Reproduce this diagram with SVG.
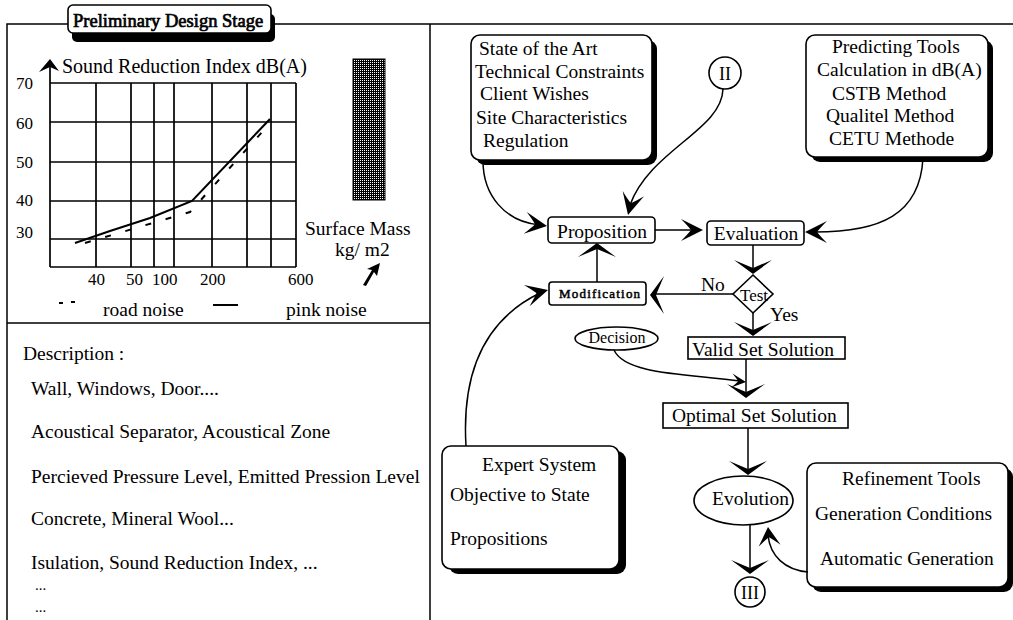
<svg xmlns="http://www.w3.org/2000/svg" width="1013" height="620" viewBox="0 0 1013 620">
<defs>
<style>
text{font-family:"Liberation Serif","Times New Roman",serif;font-size:19.5px;fill:#000}
.bold{stroke:#000;stroke-width:0.7}
.ln{stroke:#000;stroke-width:1.5;fill:none}
.grid{stroke:#000;stroke-width:1.7;fill:none}
.box{fill:#fff;stroke:#000;stroke-width:1.6}
.sh{fill:#000}
.num{font-size:17px}
.c{text-anchor:middle}
.con{stroke:#000;stroke-width:1.5;fill:none}
.ah{fill:#000}
</style>
<pattern id="hatch" width="2" height="2" patternUnits="userSpaceOnUse"><rect width="2" height="2" fill="#000"/><rect width="1" height="1" fill="#fff"/></pattern>
<path id="aw" d="M0,0 L-14,-19 L-6,0 L-14,19 Z"/>
<path id="as" d="M0,0 Q-10,-5 -22,-11 Q-15,-4 -12,0 Q-15,4 -22,11 Q-10,5 0,0 Z"/>
</defs>
<rect width="1013" height="620" fill="#fff"/>

<g id="frame">
<path class="ln" d="M7,620 V24 H1013 M430,24 V620 M7,323 H430"/>
</g>

<g id="header">
<rect class="sh" x="72" y="14" width="203" height="28" rx="5"/>
<rect class="box" x="68" y="5" width="203" height="28" rx="5"/>
<text class="bold" x="73" y="27" style="font-size:18.5px">Preliminary Design Stage</text>
</g>

<g id="chart">
<path class="grid" d="M50,83 H296 M50,122 H296 M50,162 H296 M50,201 H296 M50,239 H296 M50,267 H296 M96,83 V267 M131,83 V267 M154,83 V267 M174,83 V267 M212,83 V267 M247,83 V267 M271,83 V267 M296,83 V267 M50,267 V64"/>
<path class="ah" d="M50,59 L39,72 L50,67 L59,71 Z"/>
<path class="ah" d="M363,285 L372,270 L367,269 L380,263 L377,276 L374,272 L366,286 Z"/>
<text x="62" y="73" style="font-size:20px">Sound Reduction Index dB(A)</text>
<text class="num" x="16" y="89">70</text>
<text class="num" x="16" y="129">60</text>
<text class="num" x="16" y="168">50</text>
<text class="num" x="16" y="206">40</text>
<text class="num" x="16" y="238">30</text>
<text class="num" x="88" y="285">40</text>
<text class="num" x="126" y="285">50</text>
<text class="num" x="152" y="285">100</text>
<text class="num" x="200" y="285">200</text>
<text class="num" x="288" y="285">600</text>
<path d="M75,243 L110,231 L150,218 L192,201 L270,119" stroke="#000" stroke-width="2" fill="none"/>
<path d="M85,243 L190,212 L263,131" stroke="#000" stroke-width="2" fill="none" stroke-dasharray="6 15"/>
<rect x="353" y="59" width="32" height="141" fill="url(#hatch)" stroke="#000" stroke-width="1"/>
<text x="305" y="235">Surface Mass</text>
<text x="335" y="256">kg/ m2</text>
</g>

<g id="legend">
<path d="M59,303 H63 M71,302 H75 M213,305 H238" stroke="#000" stroke-width="1.8"/>
<text x="103" y="316">road noise</text>
<text x="286" y="316">pink noise</text>
</g>

<g id="description">
<text x="23" y="360">Description :</text>
<text x="31" y="395">Wall, Windows, Door....</text>
<text x="31" y="438">Acoustical Separator, Acoustical Zone</text>
<text x="31" y="483">Percieved Pressure Level, Emitted Pression Level</text>
<text x="31" y="525">Concrete, Mineral Wool...</text>
<text x="31" y="569">Isulation, Sound Reduction Index, ...</text>
<text x="35" y="590" style="font-size:15px">...</text>
<text x="35" y="612" style="font-size:15px">...</text>
</g>

<g id="state">
<rect class="sh" x="476" y="40" width="181" height="125" rx="9"/>
<rect class="box" x="471" y="35" width="181" height="125" rx="9"/>
<text x="479" y="55">State of the Art</text>
<text x="475" y="78">Technical Constraints</text>
<text x="480" y="100">Client Wishes</text>
<text x="476" y="124">Site Characteristics</text>
<text x="483" y="147">Regulation</text>
</g>

<g id="c2">
<circle cx="725" cy="73" r="16" fill="#fff" stroke="#000" stroke-width="1.6"/>
<text class="c" x="725" y="80" style="font-size:18px">II</text>
</g>

<g id="predicting">
<rect class="sh" x="811" y="40" width="182" height="122" rx="9"/>
<rect class="box" x="806" y="35" width="182" height="122" rx="9"/>
<text x="832" y="53">Predicting Tools</text>
<text x="817" y="76">Calculation in dB(A)</text>
<text x="832" y="100">CSTB Method</text>
<text x="826" y="122">Qualitel Method</text>
<text x="829" y="145">CETU Methode</text>
</g>

<g id="proposition">
<rect class="box" x="548" y="217" width="107" height="26" rx="4"/>
<text class="c" x="602" y="238">Proposition</text>
</g>

<g id="evaluation">
<rect class="box" x="707" y="221" width="97" height="24" rx="4"/>
<text class="c" x="756" y="240">Evaluation</text>
</g>

<g id="modification">
<rect class="box" x="549" y="282" width="97" height="23" rx="3"/>
<text class="bold" x="559" y="298" style="font-size:13px;letter-spacing:1.2px;stroke-width:0.5">Modification</text>
</g>

<g id="test">
<path class="box" d="M753,275 L773,294 L753,313 L733,294 Z"/>
<text class="c" x="754" y="301" style="font-size:17px">Test</text>
</g>

<g id="decision">
<ellipse cx="616.5" cy="338.5" rx="41.5" ry="11.5" fill="#fff" stroke="#000" stroke-width="1.6"/>
<text class="c" x="617" y="343" style="font-size:16px">Decision</text>
</g>

<g id="valid">
<rect class="box" x="688" y="337" width="157" height="22"/>
<text x="692" y="356">Valid Set Solution</text>
</g>

<g id="optimal">
<rect class="box" x="663" y="403" width="185" height="25"/>
<text x="672" y="422">Optimal Set Solution</text>
</g>

<g id="evolution">
<ellipse cx="743.5" cy="500.5" rx="49.5" ry="24.5" fill="#fff" stroke="#000" stroke-width="1.6"/>
<text x="712" y="505">Evolution</text>
</g>

<g id="c3">
<circle cx="750" cy="592" r="15" fill="#fff" stroke="#000" stroke-width="1.6"/>
<text class="c" x="750" y="599" style="font-size:18px">III</text>
</g>

<g id="expert">
<rect class="sh" x="449" y="451" width="177" height="123" rx="9"/>
<rect class="box" x="442" y="446" width="177" height="123" rx="9"/>
<text x="482" y="471">Expert System</text>
<text x="450" y="501">Objective to State</text>
<text x="450" y="545">Propositions</text>
</g>

<g id="refinement">
<rect class="sh" x="812" y="468" width="201" height="124" rx="9"/>
<rect class="box" x="807" y="463" width="201" height="124" rx="9"/>
<text x="842" y="485">Refinement Tools</text>
<text x="815" y="520">Generation Conditions</text>
<text x="820" y="565">Automatic Generation</text>
</g>

<g id="connectors">
<path class="con" d="M483,161 C483,195 505,222 540,225"/>
<use class="ah" href="#as" transform="translate(547,226) rotate(8)"/>
<path class="con" d="M723,89 C722,130 650,150 630,205"/>
<use class="ah" href="#as" transform="translate(628,215) rotate(104)"/>
<path class="con" d="M923,158 C920,215 880,232 815,232"/>
<use class="ah" href="#as" transform="translate(805,232) rotate(180)"/>
<path class="con" d="M655,230 H695"/>
<use class="ah" href="#as" transform="translate(703,230)"/>
<path class="con" d="M753,245 V270"/>
<use class="ah" href="#aw" transform="translate(753,274) rotate(90)"/>
<path class="con" d="M733,294 H655"/>
<use class="ah" href="#aw" transform="translate(650,295) rotate(180)"/>
<text x="701" y="291">No</text>
<path class="con" d="M597,282 V248"/>
<use class="ah" href="#aw" transform="translate(597,243) rotate(-90)"/>
<path class="con" d="M753,313 V332"/>
<use class="ah" href="#aw" transform="translate(753,336) rotate(90)"/>
<text x="770" y="321">Yes</text>
<path class="con" d="M466,446 C462,380 480,322 540,293"/>
<use class="ah" href="#as" transform="translate(548,290) rotate(-15)"/>
<path class="con" d="M614,350 C625,375 690,374 740,381"/>
<use class="ah" href="#as" transform="translate(746,382) rotate(6) scale(0.65)"/>
<path class="con" d="M746,359 V394"/>
<use class="ah" href="#aw" transform="translate(746,398) rotate(90)"/>
<path class="con" d="M748,428 V471"/>
<use class="ah" href="#aw" transform="translate(748,475) rotate(90)"/>
<path class="con" d="M750,525 V570"/>
<use class="ah" href="#aw" transform="translate(750,574) rotate(90)"/>
<path class="con" d="M808,572 C785,570 770,556 768,535"/>
<use class="ah" href="#as" transform="translate(768,527) rotate(-95) scale(0.85,1)"/>
</g>
</svg>
